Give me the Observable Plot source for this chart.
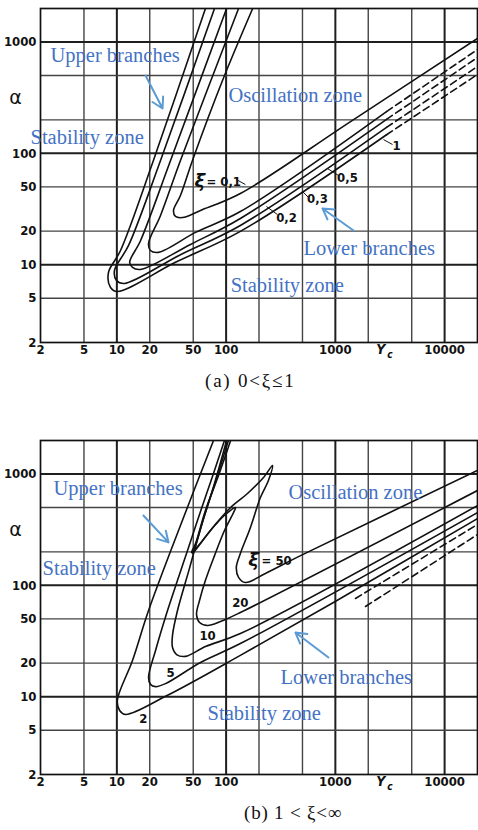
<!DOCTYPE html>
<html><head><meta charset="utf-8">
<script src="https://cdn.jsdelivr.net/npm/d3@7"></script>
<script src="https://cdn.jsdelivr.net/npm/@observablehq/plot@0.6"></script>
<style>
body{margin:0;background:#fff;}
#wrap{position:relative;width:478px;height:830px;overflow:hidden;background:#fff;}
.cap{position:absolute;font-family:"Liberation Serif","Times New Roman",serif;font-size:19px;color:#111;white-space:nowrap;line-height:22px;}
</style></head><body>
<div id="wrap">
<div id="pa" style="position:absolute;left:0;top:0"></div>
<div class="cap" style="left:205px;top:370px;letter-spacing:1.8px">(a) 0&lt;ξ≤1</div>
<div id="pb" style="position:absolute;left:0;top:392px"></div>
<div class="cap" style="left:244px;top:802px;letter-spacing:0.8px">(b) 1 &lt; ξ&lt;∞</div>
</div>
<script>
// ---- axes ----
const xTicks = [2,5,10,20,50,100,1000,10000];
const yTicks = [2,5,10,20,50,100,1000];
const xGrid = [5,10,20,50,100,200,500,1000,2000,5000,10000];
const yGrid = [5,10,20,50,100,200,500,1000];
const xMajor = [10,100,1000,10000];
const yMajor = [10,100,1000];

// ---- panel (a): 0 < xi <= 1  [Yc, alpha] ----
const a01  = [[175,2000],[92.7,451],[49.2,86.3],[38.2,41.8],[33.0,30.7],[34.4,27.1],[39.9,26.5],[58.3,30.7],[135,43.6],[1377,193],[20000,1076]];
const a02  = [[130,2000],[38.2,86.3],[25.1,27.7],[19.5,15.5],[20.3,13.4],[24.0,12.9],[52.5,19.5],[135,30.0],[2940,237]];
const a02d = [[2940,237],[20000,857]];
const a03  = [[101,2000],[31.0,86.3],[16.5,16.5],[13.1,10.5],[13.9,9.44],[16.5,9.06],[47.2,15.2],[135,26.0],[2940,202]];
const a03d = [[2940,202],[20000,726]];
const a05  = [[78.3,2000],[25.1,86.3],[12.8,14.9],[9.51,8.87],[9.93,7.21],[11.7,6.78],[38.2,12.3],[135,22.5],[2940,171]];
const a05d = [[2940,171],[20000,603]];
const a10  = [[64.7,2000],[21.6,86.3],[10.8,13.4],[8.38,8.51],[8.75,6.24],[10.1,5.74],[34.4,10.5],[135,19.9],[2940,147]];
const a10d = [[2940,147],[20000,511]];

const aCurveLabels = [
  {t:"0,2", x:357, y:26.5},
  {t:"0,3", x:686, y:39.3},
  {t:"0,5", x:1291, y:60.7},
  {t:"1",   x:3631, y:118}
];
const aLeaders = [
  {x1:124,y1:58.2,x2:150,y2:52.5},
  {x1:234,y1:33.3,x2:295,y2:28.2},
  {x1:500,y1:45.4,x2:568,y2:40.1},
  {x1:847,y1:73.1,x2:1069,y2:63.2},
  {x1:2758,y1:133,x2:3334,y2:120}
];
const aNotes = [
  {t:"Upper branches",   x:2.47, y:757},
  {t:"Stability zone",   x:1.62, y:139},
  {t:"Oscillation zone", x:105,  y:331},
  {t:"Lower branches",   x:511,  y:14.0},
  {t:"Stability zone",   x:110,  y:6.50}
];
const aArrows = [
  {x1:18.3,y1:500,x2:26.2,y2:253},
  {x1:1466,y1:20.3,x2:762,y2:32.0}
];

// ---- panel (b): 1 < xi < inf ----
const b2  = [[76.7,2000],[38.2,345],[19.5,59.4],[13.9,21.1],[10.1,9.25],[10.6,7.52],[12.0,6.92],[29.1,10.3],[135,23.5],[961,70.2],[20000,398]];
const b5  = [[96.6,2000],[75.0,950],[58.3,461],[45.3,219],[36.7,118],[29.1,59.4],[22.6,26.0],[19.5,14.9],[20.3,12.9],[22.6,12.3],[27.9,13.1],[58.3,20.3],[135,30.0],[20000,451]];
const b10 = [[101,2000],[78.3,822],[59.5,345],[46.2,142],[35.9,59.4],[32.3,35.5],[32.3,27.7],[35.2,23.9],[42.5,23.0],[64.7,28.2],[135,36.9],[20000,521]];
const b20 = [[105,2000],[81.7,912],[63.4,424],[51.4,214],[49.2,193],[54.7,219],[71.9,311],[98.6,433],[122,500],[117,451],[96.6,311],[78.3,185],[64.7,111],[57.1,73.1],[53.6,54.7],[57.1,46.4],[67.6,43.6],[88.9,47.3],[135,57.0],[20000,711]];
const b50 = [[110,2000],[85.2,970],[64.7,470],[52.5,238],[48.2,197],[55.8,228],[78.3,345],[110,500],[157,668],[220,931],[266,1194],[244,875],[206,615],[167,331],[135,193],[124,145],[130,118],[150,106],[229,128],[480,185],[20000,1076]];
const bDashA = [[1528,76.2],[20000,352]];
const bDashB = [[1888,64.6],[20000,286]];

const bCurveLabels = [
  {t:"20", x:135,  y:70.2},
  {t:"10", x:67.6, y:35.5},
  {t:"5",  x:31.0, y:16.5},
  {t:"2",  x:17.5, y:6.37}
];
const bNotes = [
  {t:"Upper branches",   x:2.63, y:741},
  {t:"Stability zone",   x:2.09, y:142},
  {t:"Oscillation zone", x:372,  y:682},
  {t:"Lower branches",   x:315,  y:14.9},
  {t:"Stability zone",   x:67.6, y:7.06}
];
const bArrows = [
  {x1:17.5,y1:424,x2:29.7,y2:243},
  {x1:865,y1:22.5,x2:431,y2:37.7}
];

// ---- styling ----
const NUM = '"DejaVu Sans Condensed","Liberation Sans Narrow","Roboto Condensed","DejaVu Sans",sans-serif';
const SERIF = '"Liberation Serif","Times New Roman",serif';
const BLUE = "#4472c4", ARROW = "#5b9bd5", INK = "#111";
const cs = {x:d=>d[0], y:d=>d[1], stroke:INK, strokeWidth:1.6, curve:"catmull-rom", clip:true};
const ds = {...cs, strokeDasharray:"7,4"};

function frameMarks() {
  return [
    Plot.ruleX(xGrid.filter(v=>!xMajor.includes(v)), {stroke:"#444", strokeWidth:1.4}),
    Plot.ruleX(xMajor, {stroke:"#1e1e1e", strokeWidth:2}),
    Plot.ruleY(yGrid.filter(v=>!yMajor.includes(v)), {stroke:"#444", strokeWidth:1.4}),
    Plot.ruleY(yMajor, {stroke:"#1e1e1e", strokeWidth:2}),
    Plot.frame({stroke:INK, strokeWidth:1.7}),
    Plot.text(xTicks, {x:d=>d, frameAnchor:"bottom", dy:11, text:d=>String(d), fontSize:13, fontWeight:"bold", fontFamily:NUM, fill:INK}),
    Plot.text(yTicks, {y:d=>d, frameAnchor:"left", dx:-4, textAnchor:"end", text:d=>String(d), fontSize:13, fontWeight:"bold", fontFamily:NUM, fill:INK}),
    Plot.text(["α"], {x:[1.18], y:[315], text:d=>d, fontSize:19, fontFamily:"DejaVu Sans", fill:INK}),
    Plot.text(["Y"], {x:[2600], frameAnchor:"bottom", dy:11, text:d=>d, fontStyle:"italic", fontWeight:"bold", fontSize:14, fontFamily:NUM, fill:INK}),
    Plot.text(["c"], {x:[3150], frameAnchor:"bottom", dy:15, text:d=>d, fontStyle:"italic", fontWeight:"bold", fontSize:10, fontFamily:NUM, fill:INK})
  ];
}
function notes(list, arrows) {
  return [
    Plot.text(list, {x:"x", y:"y", text:"t", textAnchor:"start", lineAnchor:"middle", fill:BLUE, fontFamily:SERIF, fontSize:20.5}),
    Plot.arrow(arrows, {x1:"x1", y1:"y1", x2:"x2", y2:"y2", stroke:ARROW, strokeWidth:2, headLength:9})
  ];
}
function panel(height, marginTop, marginBottom, marks) {
  return Plot.plot({
    width:478, height, marginTop, marginBottom, marginLeft:40, marginRight:1,
    style:{fontFamily:NUM, fontSize:"12.5px", color:INK, background:"white", overflow:"visible"},
    x:{type:"log", domain:[2,20000], axis:null},
    y:{type:"log", domain:[2,2000], axis:null},
    marks:[...frameMarks(), ...marks]
  });
}
const lblStyle = {x:"x", y:"y", text:"t", fontFamily:NUM, fontSize:13, fontWeight:"bold", fill:INK};

const pa = panel(372, 8, 30, [
  Plot.line(a01, cs), Plot.line(a02, cs), Plot.line(a03, cs), Plot.line(a05, cs), Plot.line(a10, cs),
  Plot.line(a02d, ds), Plot.line(a03d, ds), Plot.line(a05d, ds), Plot.line(a10d, ds),
  Plot.link(aLeaders, {x1:"x1", y1:"y1", x2:"x2", y2:"y2", stroke:INK, strokeWidth:1}),
  Plot.text(aCurveLabels, lblStyle),
  Plot.text(["ξ"], {x:[57.5], y:[55.9], text:d=>d, fontFamily:"DejaVu Sans", fontStyle:"italic", fontWeight:"bold", fontSize:18, fill:INK}),
  Plot.text(["= 0,1"], {x:[66.0], y:[55.9], text:d=>d, textAnchor:"start", fontFamily:NUM, fontSize:13, fontWeight:"bold", fill:INK}),
  ...notes(aNotes, aArrows)
]);
document.getElementById("pa").appendChild(pa);

const pb = panel(408, 48, 26, [
  Plot.line(b2, cs), Plot.line(b5, cs), Plot.line(b10, cs), Plot.line(b20, cs), Plot.line(b50, cs),
  Plot.line(bDashA, ds), Plot.line(bDashB, ds),
  Plot.text(bCurveLabels, lblStyle),
  Plot.text(["ξ"], {x:[178], y:[167], text:d=>d, fontFamily:"DejaVu Sans", fontStyle:"italic", fontWeight:"bold", fontSize:18, fill:INK}),
  Plot.text(["= 50"], {x:[211], y:[167], text:d=>d, textAnchor:"start", fontFamily:NUM, fontSize:13, fontWeight:"bold", fill:INK}),
  ...notes(bNotes, bArrows)
]);
document.getElementById("pb").appendChild(pb);
</script>
</body></html>
